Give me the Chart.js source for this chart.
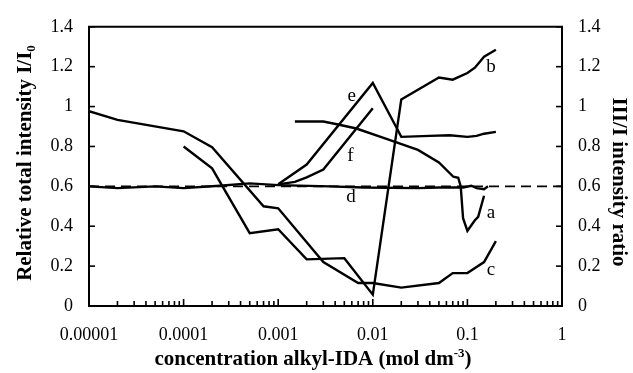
<!DOCTYPE html>
<html>
<head>
<meta charset="utf-8">
<script src="https://cdn.jsdelivr.net/npm/chart.js@4.4.1/dist/chart.umd.min.js"></script>
<style>
  html, body { margin: 0; padding: 0; background: #fff; }
</style>
</head>
<body>
<canvas id="chart" width="633" height="373"></canvas>
<script>
// axis ticks
const decades = [0.00001, 0.0001, 0.001, 0.01, 0.1, 1];
const xTickLabels = ["0.00001", "0.0001", "0.001", "0.01", "0.1", "1"];
const yTicks = [0, 0.2, 0.4, 0.6, 0.8, 1, 1.2, 1.4];

// curve a (III/I ratio)
const concA = [0.0015, 0.003, 0.0043, 0.0067, 0.013, 0.03, 0.05, 0.071, 0.08, 0.085, 0.09, 0.1, 0.12, 0.13, 0.15];
const valA  = [0.925, 0.925, 0.91, 0.89, 0.843, 0.783, 0.72, 0.648, 0.643, 0.60, 0.44, 0.377, 0.43, 0.447, 0.553];

// curve b
const concB = [0.0001, 0.0002, 0.0005, 0.001, 0.002, 0.005, 0.01, 0.02, 0.05, 0.07, 0.1, 0.12, 0.15, 0.2];
const valB  = [0.80, 0.69, 0.365, 0.385, 0.234, 0.24, 0.057, 1.036, 1.146, 1.135, 1.168, 1.195, 1.25, 1.285];

// curve c
const concC = [0.00001, 0.00002, 0.0001, 0.0002, 0.0007, 0.001, 0.003, 0.007, 0.01, 0.02, 0.05, 0.07, 0.1, 0.15, 0.2];
const valC  = [0.977, 0.933, 0.876, 0.796, 0.50, 0.49, 0.22, 0.115, 0.115, 0.092, 0.115, 0.165, 0.165, 0.22, 0.325];

// curve d
const concD = [0.00001, 0.00002, 0.00005, 0.0001, 0.00024, 0.0005, 0.001, 0.0035, 0.008, 0.03, 0.05, 0.09, 0.11, 0.125, 0.15, 0.165];
const valD  = [0.60, 0.591, 0.60, 0.591, 0.603, 0.615, 0.606, 0.60, 0.594, 0.591, 0.594, 0.594, 0.603, 0.591, 0.586, 0.60];

// curve e
const concE = [0.001, 0.002, 0.01, 0.018, 0.02, 0.04, 0.065, 0.1, 0.125, 0.15, 0.2];
const valE  = [0.61, 0.709, 1.118, 0.89, 0.848, 0.853, 0.856, 0.848, 0.853, 0.864, 0.873];

// curve f
const concF = [0.001, 0.0015, 0.002, 0.003, 0.01];
const valF  = [0.61, 0.622, 0.645, 0.684, 0.992];

// dashed reference level
const refConc = [0.00001, 1];
const refVal = [0.6, 0.6];

// curve letters and where they sit
const curveNames = ["a", "b", "c", "d", "e", "f"];
const nameConc = [0.178, 0.178, 0.178, 0.0059, 0.006, 0.0058];
const nameVal  = [0.468, 1.20, 0.182, 0.545, 1.053, 0.753];

function pts(xs, ys) {
  return xs.map((x, i) => ({ x: x, y: ys[i] }));
}

function curve(xs, ys) {
  return {
    data: pts(xs, ys),
    borderColor: "#000",
    borderWidth: 2.4,
    pointRadius: 0,
    tension: 0,
    fill: false,
    yAxisID: "y"
  };
}

const SERIF = "'Liberation Serif', 'Times New Roman', serif";

const datasets = [
  curve(concA, valA),
  curve(concB, valB),
  curve(concC, valC),
  curve(concD, valD),
  curve(concE, valE),
  curve(concF, valF),
  Object.assign(curve(refConc, refVal), { borderDash: [10, 6], borderWidth: 1.8 })
];

// frame, inward ticks, titles, curve letters
const decorPlugin = {
  id: "decor",
  afterDraw(chart) {
    const ctx = chart.ctx;
    const a = chart.chartArea;
    const xs = chart.scales.x;
    const ys = chart.scales.y;
    const seg = (x1, y1, x2, y2) => { ctx.beginPath(); ctx.moveTo(x1, y1); ctx.lineTo(x2, y2); ctx.stroke(); };

    ctx.save();
    ctx.strokeStyle = "#000";
    ctx.fillStyle = "#000";
    ctx.lineWidth = 2;
    seg(a.left - 1, a.top, a.right + 1, a.top);

    ctx.lineWidth = 1.6;
    yTicks.forEach(v => {
      const py = ys.getPixelForValue(v);
      seg(a.left, py, a.left + 6, py);
      seg(a.right - 6, py, a.right, py);
    });
    decades.forEach((d, i) => {
      const px = xs.getPixelForValue(d);
      seg(px, a.bottom, px, a.bottom - 7);
      if (i < decades.length - 1) {
        for (let m = 2; m < 10; m++) {
          const p = xs.getPixelForValue(d * m);
          seg(p, a.bottom, p, a.bottom - 5);
        }
      }
    });

    // curve letters
    ctx.font = "19px " + SERIF;
    ctx.textAlign = "center";
    ctx.textBaseline = "middle";
    curveNames.forEach((n, i) => {
      ctx.fillText(n, xs.getPixelForValue(nameConc[i]), ys.getPixelForValue(nameVal[i]));
    });

    // x title with superscript
    ctx.textAlign = "left";
    ctx.textBaseline = "alphabetic";
    const big = "bold 21px " + SERIF;
    const small = "bold 13px " + SERIF;
    const p1 = "concentration alkyl-IDA (mol dm", p2 = "-3", p3 = ")";
    ctx.font = big; const w1 = ctx.measureText(p1).width, w3 = ctx.measureText(p3).width;
    ctx.font = small; const w2 = ctx.measureText(p2).width;
    let sx = 313 - (w1 + w2 + w3) / 2;
    const by = 365;
    ctx.font = big; ctx.fillText(p1, sx, by); sx += w1;
    ctx.font = small; ctx.fillText(p2, sx, by - 8); sx += w2;
    ctx.font = big; ctx.fillText(p3, sx, by);

    // left title with subscript
    ctx.save();
    ctx.translate(31, 163);
    ctx.rotate(-Math.PI / 2);
    const q1 = "Relative total intensity I/I", q2 = "0";
    ctx.font = big; const v1 = ctx.measureText(q1).width;
    ctx.font = small; const v2 = ctx.measureText(q2).width;
    let tx = -(v1 + v2) / 2;
    ctx.font = big; ctx.fillText(q1, tx, 0); tx += v1;
    ctx.font = small; ctx.fillText(q2, tx, 4);
    ctx.restore();

    // right title
    ctx.save();
    ctx.translate(613, 182);
    ctx.rotate(Math.PI / 2);
    ctx.font = big;
    ctx.textAlign = "center";
    ctx.fillText("III/I intensity ratio", 0, 0);
    ctx.restore();

    ctx.restore();
  }
};

const tickFont = { family: SERIF, size: 18 };

new Chart(document.getElementById("chart"), {
  type: "line",
  data: { datasets: datasets },
  options: {
    responsive: false,
    animation: false,
    layout: { padding: { top: 21, left: 0, right: 0, bottom: 0 } },
    plugins: { legend: { display: false }, tooltip: { enabled: false } },
    scales: {
      x: {
        type: "logarithmic",
        min: 0.00001,
        max: 1,
        grid: { display: false, drawTicks: false, tickLength: 0 },
        border: { display: true, color: "#000", width: 2 },
        afterBuildTicks: s => { s.ticks = decades.map(v => ({ value: v })); },
        afterFit: s => { s.height = 67; },
        ticks: {
          color: "#000",
          font: tickFont,
          padding: 18,
          maxRotation: 0,
          autoSkip: false,
          callback: (v, i) => xTickLabels[i]
        }
      },
      y: {
        position: "left",
        min: 0,
        max: 1.4,
        grid: { display: false, drawTicks: false, tickLength: 0 },
        border: { display: true, color: "#000", width: 2 },
        afterBuildTicks: s => { s.ticks = yTicks.map(v => ({ value: v })); },
        afterFit: s => { s.width = 89; },
        ticks: { color: "#000", font: tickFont, padding: 16, callback: v => String(v) }
      },
      y2: {
        position: "right",
        min: 0,
        max: 1.4,
        grid: { display: false, drawTicks: false, tickLength: 0 },
        border: { display: true, color: "#000", width: 2 },
        afterBuildTicks: s => { s.ticks = yTicks.map(v => ({ value: v })); },
        afterFit: s => { s.width = 71; },
        ticks: { color: "#000", font: tickFont, padding: 16, callback: v => String(v) }
      }
    }
  },
  plugins: [decorPlugin]
});
</script>
</body>
</html>
